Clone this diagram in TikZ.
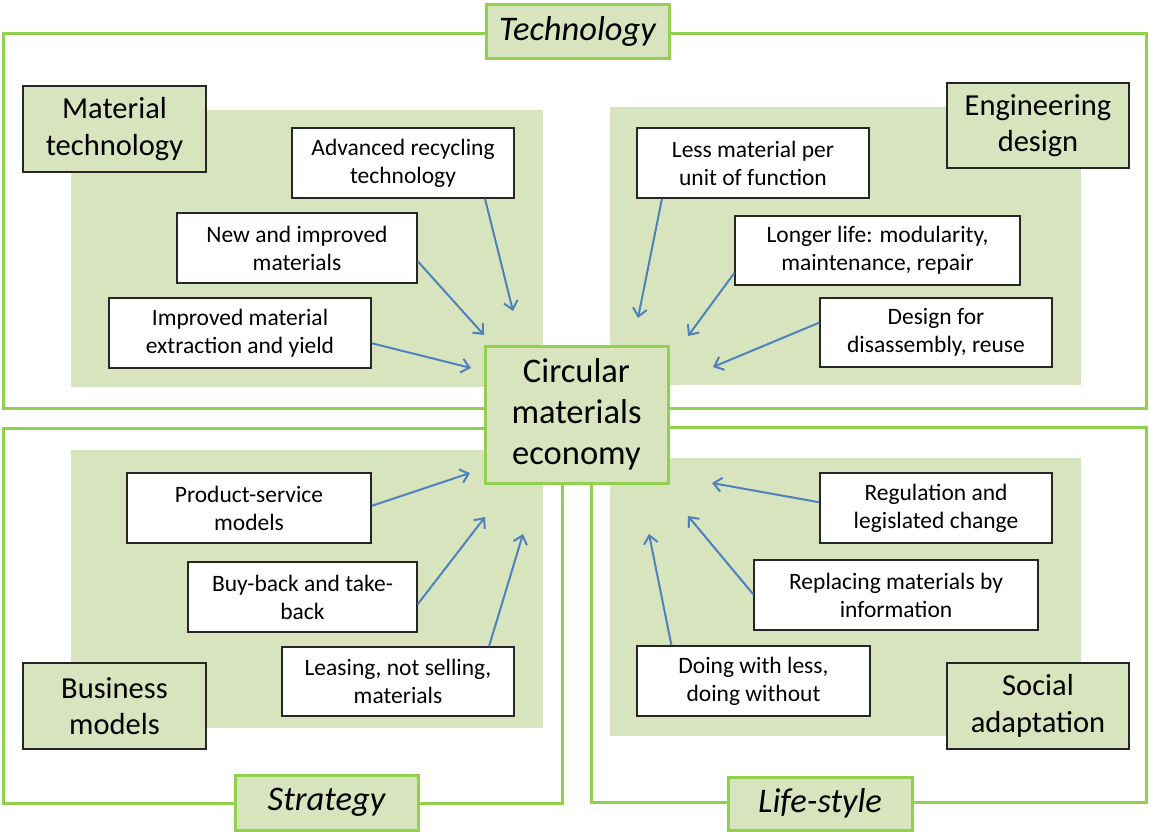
\documentclass[tikz,border=0pt]{standalone}
\usepackage{fontspec}
\setmainfont{Carlito}
\usetikzlibrary{arrows.meta,calc}
\definecolor{lgreen}{HTML}{D7E4BD}
\definecolor{bgreen}{HTML}{92D050}
\definecolor{ablue}{HTML}{4F81BD}
\begin{document}
\begin{tikzpicture}[x=1pt,y=-1pt,
  frame/.style={draw=bgreen, line width=3pt},
  backdrop/.style={fill=lgreen},
  catbox/.style={draw=black!85, line width=1.5pt, fill=lgreen, inner sep=0pt, align=center, font=\fontsize{30.5}{36.5}\selectfont},
  wbox/.style={draw=black!85, line width=1.5pt, fill=white, inner sep=0pt, align=center, font=\fontsize{23.5}{28}\selectfont},
  lbl/.style={draw=bgreen, line width=3pt, fill=lgreen, inner sep=0pt, align=center, font=\fontsize{34.5}{40}\selectfont\itshape},
  ctr/.style={draw=bgreen, line width=3pt, fill=lgreen, inner sep=0pt, align=center, font=\fontsize{34.5}{41}\selectfont},
  arr/.style={draw=ablue, line width=2pt, -{Straight Barb[length=8pt,width=14pt]}}]
\useasboundingbox (0,0) rectangle (1149,831);
\fill[white] (0,0) rectangle (1149,831);
% frames
\path[frame] (3,33) rectangle (1146,408);
\path[frame] (3,428) rectangle (562,803);
\path[frame] (591,427) rectangle (1146,802);
% backdrops
\path[backdrop] (71,110) rectangle (543,387);
\path[backdrop] (610,107) rectangle (1081,385);
\path[backdrop] (71,450) rectangle (543,728);
\path[backdrop] (610,458) rectangle (1081,736);
% category boxes
\node[catbox, minimum width=183pt, minimum height=86pt] (mat) at (114.5,129) {Material\\technology};
\node[catbox, minimum width=182pt, minimum height=85pt] (eng) at (1038,125.5) {Engineering\\design};
\node[catbox, minimum width=183pt, minimum height=86pt] (bus) at (114.5,706) {Business\\models};
\node[catbox, minimum width=182pt, minimum height=86pt] (soc) at (1038,706) {Social\\adaptation};
% white boxes
\node[wbox, minimum width=222pt, minimum height=70pt] (adv) at (403,163) {Advanced recycling\\technology};
\node[wbox, minimum width=240pt, minimum height=70pt] (newm) at (297,248) {New and improved\\materials};
\node[wbox, minimum width=262pt, minimum height=70pt] (ext) at (240,333) {Improved material\\extraction and yield};
\node[wbox, minimum width=232pt, minimum height=70pt] (less) at (753,163) {Less material per\\unit of function};
\node[wbox, minimum width=285pt, minimum height=69pt] (longer) at (877.5,250.5) {Longer life: modularity,\\maintenance, repair};
\node[wbox, minimum width=232pt, minimum height=69pt] (dis) at (936,332.5) {Design for\\disassembly, reuse};
\node[wbox, minimum width=244pt, minimum height=70pt] (prod) at (249,508) {Product-service\\models};
\node[wbox, minimum width=229pt, minimum height=70pt] (buy) at (302.5,597) {Buy-back and take-\\back};
\node[wbox, minimum width=232pt, minimum height=69pt] (lease) at (398,681.5) {Leasing, not selling,\\materials};
\node[wbox, minimum width=232pt, minimum height=70pt] (reg) at (936,508) {Regulation and\\legislated change};
\node[wbox, minimum width=284pt, minimum height=70pt] (rep) at (896,595) {Replacing materials by\\information};
\node[wbox, minimum width=233pt, minimum height=70pt] (doing) at (753.5,681) {Doing with less,\\doing without};
% center
\node[ctr, minimum width=183pt, minimum height=137pt] (cme) at (576.5,414.5) {Circular\\materials\\economy};
% labels
\node[lbl, minimum width=183pt, minimum height=54pt] (tech) at (577.5,31) {Technology};
\node[lbl, minimum width=183pt, minimum height=55pt] (strat) at (326.5,802.5) {Strategy};
\node[lbl, minimum width=184pt, minimum height=53pt] (life) at (820,803.5) {Life-style};
% arrow ends
\coordinate (e1) at (513,311);
\coordinate (e2) at (484,335);
\coordinate (e3) at (471,368);
\coordinate (e4) at (638,318);
\coordinate (e5) at (688,336);
\coordinate (e6) at (713,367);
\coordinate (e7) at (470,473);
\coordinate (e8) at (485,517);
\coordinate (e9) at (523,534);
\coordinate (e10) at (712,483);
\coordinate (e11) at (688,516);
\coordinate (e12) at (649,534);
% arrows
\draw[arr] ($(adv.south west)!0.867!(adv.south east)$) -- (e1);
\draw[arr] ($(newm.north east)!0.686!(newm.south east)$) -- (e2);
\draw[arr] ($(ext.north east)!0.643!(ext.south east)$) -- (e3);
\draw[arr] ($(less.south west)!0.11!(less.south east)$) -- (e4);
\draw[arr] ($(longer.north west)!0.82!(longer.south west)$) -- (e5);
\draw[arr] ($(dis.north west)!0.36!(dis.south west)$) -- (e6);
\draw[arr] ($(prod.north east)!0.47!(prod.south east)$) -- (e7);
\draw[arr] ($(buy.north east)!0.6!(buy.south east)$) -- (e8);
\draw[arr] ($(lease.north west)!0.89!(lease.north east)$) -- (e9);
\draw[arr] ($(reg.north west)!0.42!(reg.south west)$) -- (e10);
\draw[arr] ($(rep.north west)!0.49!(rep.south west)$) -- (e11);
\draw[arr] ($(doing.north west)!0.15!(doing.north east)$) -- (e12);
\end{tikzpicture}
\end{document}
